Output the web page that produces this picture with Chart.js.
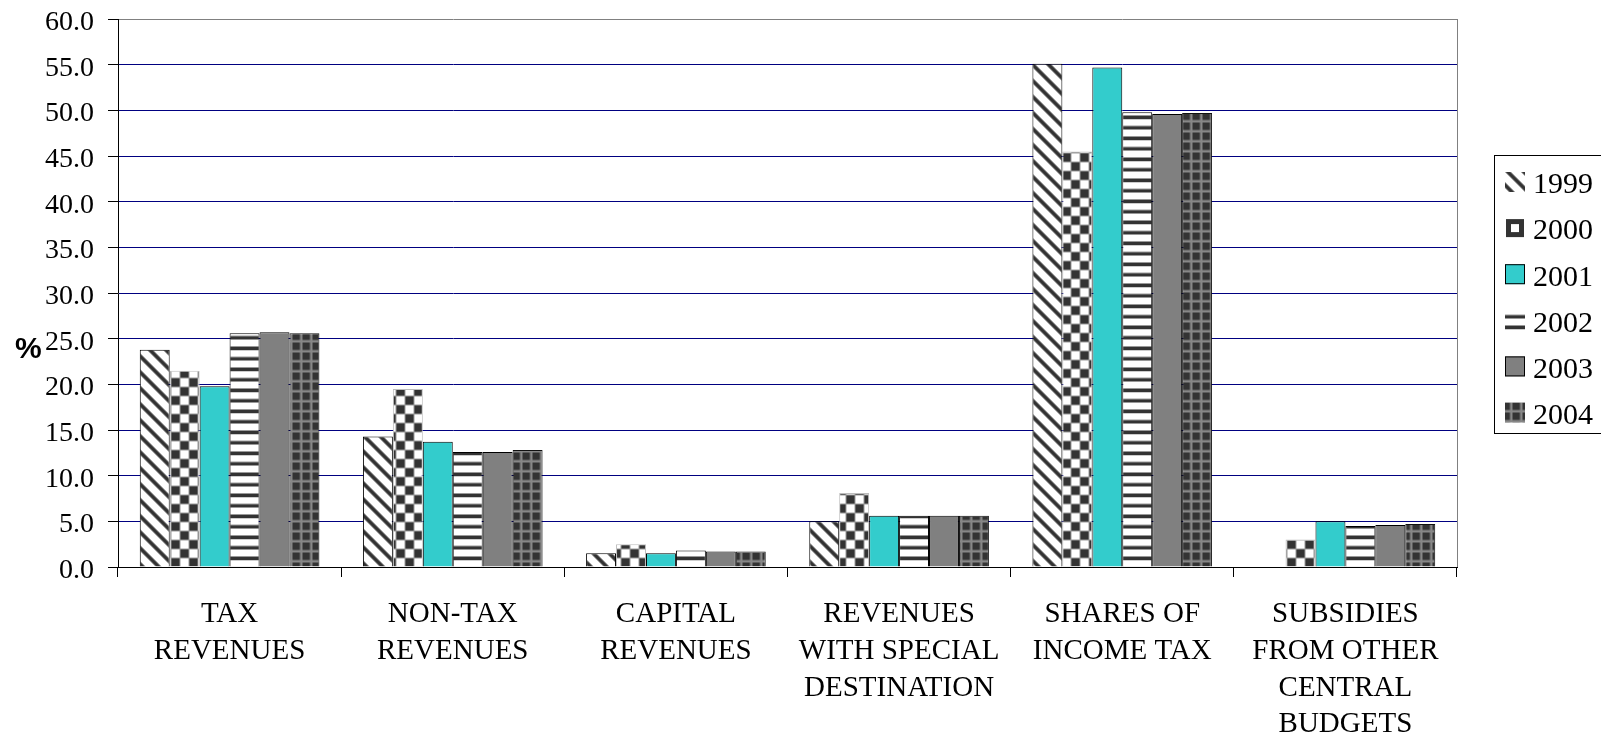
<!DOCTYPE html>
<html>
<head>
<meta charset="utf-8">
<script src="https://cdn.jsdelivr.net/npm/chart.js@4.4.1/dist/chart.umd.min.js"></script>
<style>
  html, body { margin: 0; padding: 0; background: #fff; }
  canvas { display: block; }
</style>
</head>
<body>
<canvas id="c" width="1601" height="735"></canvas>
<script>
// Revenue structure by source, % of total, 1999-2004
const categories = [
  ['TAX', 'REVENUES'],
  ['NON-TAX', 'REVENUES'],
  ['CAPITAL', 'REVENUES'],
  ['REVENUES', 'WITH SPECIAL', 'DESTINATION'],
  ['SHARES OF', 'INCOME TAX'],
  ['SUBSIDIES', 'FROM OTHER', 'CENTRAL', 'BUDGETS']
];
const years = ['1999', '2000', '2001', '2002', '2003', '2004'];

const v1999 = [23.8, 14.3, 1.5, 5.0, 55.1, null];
const v2000 = [21.5, 19.5, 2.5, 8.1, 45.5, 3.0];
const v2001 = [19.8, 13.7, 1.5, 5.6, 54.7, 5.0];
const v2002 = [25.6, 12.6, 1.8, 5.6, 49.8, 4.5];
const v2003 = [25.7, 12.6, 1.7, 5.6, 49.6, 4.6];
const v2004 = [25.6, 12.8, 1.7, 5.6, 49.7, 4.7];

const yMin = 0, yMax = 60, yStep = 5;

const canvas = document.getElementById('c');
const ctx = canvas.getContext('2d');

// ---- fill patterns (softened, supersampled tiles) ----
const mod = (a, n) => ((a % n) + n) % n;
function tilePattern(w, h, shade) {
  const t = document.createElement('canvas');
  t.width = w; t.height = h;
  const g = t.getContext('2d');
  const img = g.createImageData(w, h);
  const S = 4, spread = 1.5;
  for (let y = 0; y < h; y++) {
    for (let x = 0; x < w; x++) {
      let sum = 0;
      for (let sy = 0; sy < S; sy++) {
        for (let sx = 0; sx < S; sx++) {
          const px = x + 0.5 - spread / 2 + (sx + 0.5) / S * spread;
          const py = y + 0.5 - spread / 2 + (sy + 0.5) / S * spread;
          sum += shade(px, py);
        }
      }
      const i = (y * w + x) * 4;
      const v = sum / (S * S);
      img.data[i] = v;
      img.data[i + 1] = v;
      img.data[i + 2] = v;
      img.data[i + 3] = 255;
    }
  }
  g.putImageData(img, 0, 0);
  return ctx.createPattern(t, 'repeat');
}

const DARK = 51, WHITE = 255;
const diagonal = tilePattern(16, 16, (x, y) => {
  const d = Math.abs(mod(x - y, 16) - 8) / Math.SQRT2;
  return d < 1.9 ? DARK : WHITE;
});
const checker = tilePattern(18, 18, (x, y) => {
  return (Math.floor(mod(x, 18) / 9) + Math.floor(mod(y, 18) / 9)) % 2 ? DARK : WHITE;
});
const hstripes = tilePattern(4, 21, (x, y) => (mod(y, 10.5) < 3.6 ? DARK : WHITE));
const grid = tilePattern(10, 10, (x, y) => {
  const onLine = mod(x, 10) < 2.5 || mod(y, 10) < 2.5;
  return onLine ? 135 : DARK;
});

const seriesValues = [v1999, v2000, v2001, v2002, v2003, v2004];
const fills = [diagonal, checker, '#33CCCC', hstripes, '#808080', grid];
const edges = ['#000000', '#BDBDBD', '#000000', '#000000', '#000000', '#111111'];

const datasets = years.map((yr, i) => ({
  label: yr,
  data: seriesValues[i],
  backgroundColor: fills[i],
  borderColor: edges[i],
  borderWidth: 1,
  categoryPercentage: 0.805,
  barPercentage: 1.0
}));

// ---- frame, axis unit and boxed legend ----
const framePlugin = {
  id: 'frame',
  afterDraw(chart) {
    const c = chart.ctx, a = chart.chartArea;
    c.save();
    // plot-area right border
    c.strokeStyle = '#808080';
    c.lineWidth = 1;
    c.beginPath();
    c.moveTo(Math.round(a.right) + 0.5, a.top);
    c.lineTo(Math.round(a.right) + 0.5, a.bottom);
    c.stroke();

    // unit label
    c.fillStyle = '#000';
    c.font = 'bold 30px "Liberation Sans", Arial, sans-serif';
    c.textBaseline = 'alphabetic';
    c.textAlign = 'left';
    c.fillText('%', 15, 358);

    // legend box
    c.strokeStyle = '#000';
    c.lineWidth = 1;
    c.strokeRect(1494.5, 155.5, 140, 278);
    c.font = '30px "Liberation Serif", "Times New Roman", serif';
    chart.data.datasets.forEach((ds, i) => {
      const top = 172 + i * 46.1;
      if (ds.backgroundColor === checker) {
        // checker key drawn as a small dark ring
        c.fillStyle = '#333';
        c.fillRect(1506, top + 1, 18, 18);
        c.fillStyle = '#fff';
        c.fillRect(1511, top + 6, 8, 8);
      } else {
        c.fillStyle = ds.backgroundColor;
        c.fillRect(1505, top, 20, 20);
      }
      if (typeof ds.backgroundColor === 'string') {
        c.strokeStyle = '#000';
        c.strokeRect(1505.5, top + 0.5, 19, 19);
      }
      c.fillStyle = '#000';
      c.fillText(ds.label, 1533, 193.3 + i * 46.1);
    });
    c.restore();
  }
};

const chart = new Chart(ctx, {
  type: 'bar',
  data: { labels: categories, datasets },
  plugins: [framePlugin],
  options: {
    responsive: false,
    animation: false,
    devicePixelRatio: 1,
    layout: { padding: { left: 0, top: 19, right: 144, bottom: 0 } },
    plugins: {
      legend: { display: false },
      tooltip: { enabled: false }
    },
    scales: {
      x: {
        offset: true,
        grid: {
          offset: true,
          drawOnChartArea: false,
          drawTicks: true,
          tickLength: 10,
          tickColor: '#000',
          color: '#000'
        },
        border: { color: '#000', width: 1 },
        ticks: {
          color: '#000',
          padding: 19,
          maxRotation: 0,
          autoSkip: false,
          font: { family: '"Liberation Serif", "Times New Roman", serif', size: 29, lineHeight: 1.269 }
        },
        afterFit(scale) {
          scale.height = 168;
          scale.paddingLeft = 0;
          scale.paddingRight = 0;
        }
      },
      y: {
        min: yMin,
        max: yMax,
        grid: {
          drawTicks: true,
          tickLength: 10,
          tickColor: '#000',
          color: (c) => {
            const v = c.tick && c.tick.value;
            if (v === yMax) return '#808080';
            if (v === yMin) return '#000';
            return '#000080';
          }
        },
        border: { color: '#000', width: 1 },
        ticks: {
          stepSize: yStep,
          color: '#000',
          padding: 14,
          labelOffset: 3.5,
          font: { family: '"Liberation Serif", "Times New Roman", serif', size: 28 },
          callback: (v) => Number(v).toFixed(1)
        },
        afterFit(scale) {
          scale.width = 118;
          scale.paddingTop = 0;
          scale.paddingBottom = 0;
        }
      }
    }
  }
});
</script>
</body>
</html>
